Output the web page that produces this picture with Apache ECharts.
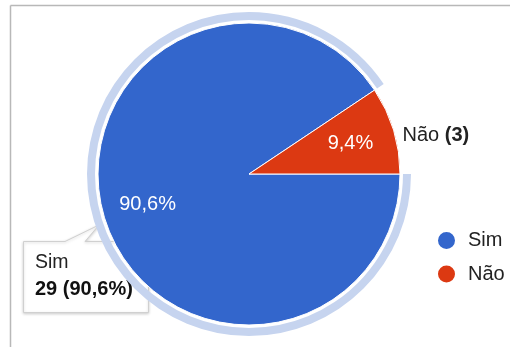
<!DOCTYPE html>
<html>
<head>
<meta charset="utf-8">
<script src="https://cdn.jsdelivr.net/npm/echarts@6/dist/echarts.min.js"></script>
<style>
  html, body { margin: 0; padding: 0; background: #fff; }
  #chart { width: 510px; height: 347px; }
</style>
</head>
<body>
<div id="chart"></div>
<script>
// Answers and their counts
const categories = ['Sim', 'Não'];
const counts = [29, 3];
const sliceColors = ['#3366cc', '#dc3912'];
const highlightColor = '#c6d4ef';
const highlightedIndex = 0;

const total = counts.reduce((a, b) => a + b, 0);
const pct = v => (v / total * 100).toFixed(1).replace('.', ',') + '%';

const FONT = '"Liberation Sans", Arial, sans-serif';

const chart = echarts.init(document.getElementById('chart'), null, { renderer: 'canvas' });

const center = [249, 174];

// main slices; only the small slice carries an outside name label
const mainData = categories.map((name, i) => ({
  name,
  value: counts[i],
  itemStyle: { color: sliceColors[i] },
  label: { show: i === 1 }
}));

// lighter ring around the highlighted slice
const ringData = categories.map((name, i) => ({
  name,
  value: counts[i],
  itemStyle: { color: i === highlightedIndex ? highlightColor : 'rgba(0,0,0,0)' }
}));

// percentage labels placed inside each slice
const pctData = categories.map((name, i) => ({
  name,
  value: counts[i],
  itemStyle: { color: 'rgba(0,0,0,0)' }
}));

const hl = highlightedIndex;
const tipTitle = categories[hl];
const tipValue = counts[hl] + ' (' + pct(counts[hl]) + ')';

chart.setOption({
  animation: false,
  backgroundColor: '#fff',
  legend: {
    orient: 'vertical',
    left: 436,
    top: 230,
    padding: 0,
    icon: 'circle',
    itemWidth: 19,
    itemHeight: 19,
    itemGap: 12.5,
    data: categories,
    selectedMode: false,
    textStyle: { fontFamily: FONT, fontSize: 20, color: '#222', padding: [0, 0, 0, 7] }
  },
  series: [
    {
      type: 'pie',
      center,
      radius: [0, 151],
      startAngle: 0,
      clockwise: true,
      avoidLabelOverlap: false,
      silent: true,
      itemStyle: { borderColor: '#fff', borderWidth: 1 },
      label: {
        position: 'outside',
        formatter: p => '{n|' + p.name + ' }{b|(' + p.value + ')}',
        rich: {
          n: { fontFamily: FONT, fontSize: 20, color: '#222' },
          b: { fontFamily: FONT, fontSize: 20, color: '#222', fontWeight: 'bold' }
        }
      },
      labelLine: { show: false, length: 0, length2: 0 },
      labelLayout: { dx: 4, dy: 5 },
      data: mainData
    },
    {
      type: 'pie',
      center,
      radius: [154, 162],
      startAngle: 0,
      clockwise: true,
      silent: true,
      label: { show: false },
      labelLine: { show: false },
      data: ringData
    },
    {
      type: 'pie',
      center,
      radius: [0, 206],
      startAngle: 0,
      clockwise: true,
      silent: true,
      label: {
        show: true,
        position: 'inside',
        formatter: p => pct(p.value),
        fontFamily: FONT,
        fontSize: 20,
        color: '#fff'
      },
      labelLine: { show: false },
      data: pctData
    }
  ],
  graphic: [
    // frame lines
    { type: 'line', shape: { x1: 10.5, y1: 5.5, x2: 510, y2: 5.5 }, style: { stroke: '#b8b8b8', lineWidth: 1.5 } },
    { type: 'line', shape: { x1: 10.5, y1: 5.5, x2: 10.5, y2: 347 }, style: { stroke: '#b8b8b8', lineWidth: 1.5 } },
    // callout for the highlighted slice
    {
      type: 'polygon',
      shape: { points: [[23.5, 241.5], [65, 241.5], [99, 225], [85, 241.5], [148.5, 241.5], [148.5, 312.5], [23.5, 312.5]] },
      style: {
        fill: '#fff', stroke: '#d0d0d0', lineWidth: 1,
        shadowBlur: 3, shadowColor: 'rgba(0,0,0,0.18)', shadowOffsetX: 0, shadowOffsetY: 1
      }
    },
    {
      type: 'text', left: 35, top: 253,
      style: { text: tipTitle, font: '19.5px ' + FONT, fill: '#222' }
    },
    {
      type: 'text', left: 35, top: 279,
      style: { text: tipValue, font: 'bold 20px ' + FONT, fill: '#111' }
    }
  ]
});
</script>
</body>
</html>
